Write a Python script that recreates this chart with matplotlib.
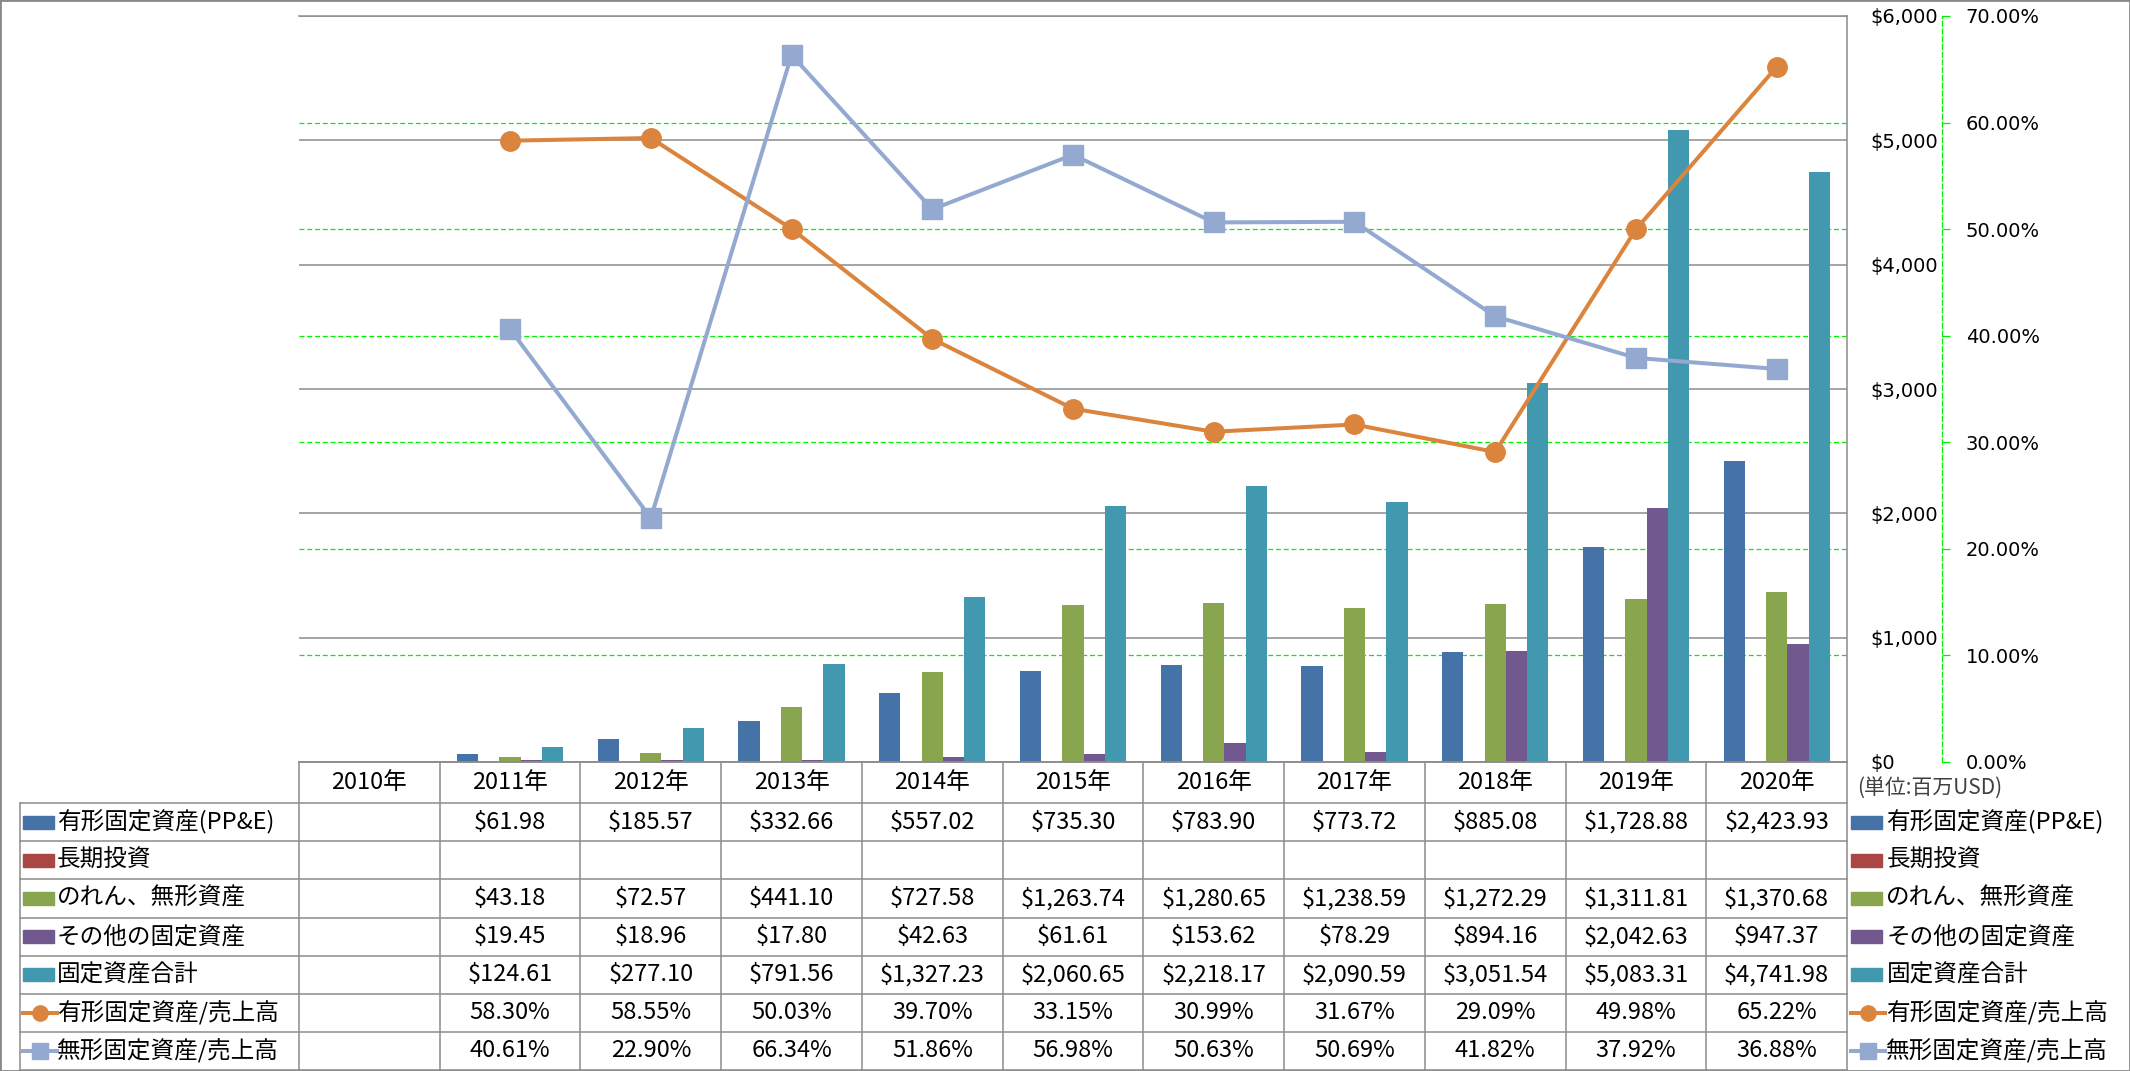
import matplotlib
matplotlib.use('Agg')
import matplotlib.pyplot as plt
import numpy as np
from matplotlib.lines import Line2D
from matplotlib.patches import Rectangle
from matplotlib.ticker import FuncFormatter, PercentFormatter

nan = np.nan

years = ['2010年', '2011年', '2012年', '2013年', '2014年', '2015年',
         '2016年', '2017年', '2018年', '2019年', '2020年']

# 単位: 百万USD
ppe = [nan, 61.98, 185.57, 332.66, 557.02, 735.30, 783.90, 773.72, 885.08, 1728.88, 2423.93]
long_inv = [nan, nan, nan, nan, nan, nan, nan, nan, nan, nan, nan]
goodwill = [nan, 43.18, 72.57, 441.10, 727.58, 1263.74, 1280.65, 1238.59, 1272.29, 1311.81, 1370.68]
other = [nan, 19.45, 18.96, 17.80, 42.63, 61.61, 153.62, 78.29, 894.16, 2042.63, 947.37]
total = [nan, 124.61, 277.10, 791.56, 1327.23, 2060.65, 2218.17, 2090.59, 3051.54, 5083.31, 4741.98]

# 売上高比 (%)
ppe_ratio = [nan, 58.30, 58.55, 50.03, 39.70, 33.15, 30.99, 31.67, 29.09, 49.98, 65.22]
intang_ratio = [nan, 40.61, 22.90, 66.34, 51.86, 56.98, 50.63, 50.69, 41.82, 37.92, 36.88]

bar_names = ['有形固定資産(PP&E)', '長期投資', 'のれん、無形資産', 'その他の固定資産', '固定資産合計']
line_names = ['有形固定資産/売上高', '無形固定資産/売上高']

bar_series = [ppe, long_inv, goodwill, other, total]
line_series = [ppe_ratio, intang_ratio]

bar_colors = ['#4572A7', '#AA4643', '#89A54E', '#71588F', '#4198AF']
line_colors = ['#DB843D', '#93A9CF']
line_markers = ['o', 's']

cjk = ['Noto Sans CJK JP', 'DejaVu Sans']
grid_gray = '#8C8C8C'
lime = '#00F000'
tab_fs = 17

W, H = 2130, 1071
fig = plt.figure(figsize=(W / 100, H / 100), dpi=100)

plot_l, plot_r, plot_t, plot_b = 299, 1847, 16, 762
tab_l, tab_b = 20, 1070

ax = fig.add_axes([plot_l / W, 1 - plot_b / H, (plot_r - plot_l) / W, (plot_b - plot_t) / H])
n = len(years)
x = np.arange(n)

usd_max = 6000
pct_max = 0.70

# bars
bw = 0.151
for k, (vals, c) in enumerate(zip(bar_series, bar_colors)):
    ax.bar(x + (k - 2) * bw, vals, bw, color=c, zorder=2)

ax.set_xlim(-0.5, n - 0.5)
ax.set_ylim(0, usd_max)
ax.set_xticks([])
ax.set_yticks(np.arange(0, usd_max + 1, 1000))
ax.yaxis.grid(True, color=grid_gray, lw=1.1, zorder=0)
ax.set_axisbelow(True)
ax.spines['left'].set_visible(False)
for s in ['top', 'right', 'bottom']:
    ax.spines[s].set_color(grid_gray)
    ax.spines[s].set_linewidth(1.1)

# percentage gridlines (green dashed), behind the bars
pct_ticks = np.arange(0, pct_max + 0.001, 0.10)
for p in pct_ticks[1:-1]:
    ax.axhline(p / pct_max * usd_max, color=lime, lw=0.9, ls=(0, (4, 2.2)), zorder=1)

ax2 = ax.twinx()
ax.yaxis.tick_right()
ax.tick_params(axis='y', length=0, pad=16.5, labelsize=14)
ax.yaxis.set_major_formatter(FuncFormatter(lambda v, _: f'${v:,.0f}'))

for vals, c, m in zip(line_series, line_colors, line_markers):
    ax2.plot(x, np.array(vals) / 100, color=c, lw=2.9, marker=m, markersize=14,
             markerfacecolor=c, markeredgecolor=c, zorder=3)

ax2.set_ylim(0, pct_max)
ax2.set_yticks(pct_ticks)
ax2.yaxis.set_major_formatter(PercentFormatter(xmax=1, decimals=2))
for s in ['left', 'top', 'bottom']:
    ax2.spines[s].set_visible(False)
ax2.spines['right'].set_position(('outward', 95 * 72 / 100))
ax2.spines['right'].set_color(lime)
ax2.spines['right'].set_linestyle((0, (4, 2.2)))
ax2.spines['right'].set_linewidth(0.9)
ax2.tick_params(axis='y', direction='out', length=6, width=0.9, color=lime,
                labelcolor='black', pad=11, labelsize=14)

# data table below the chart
col_w = (plot_r - plot_l) / n
label_w = (plot_l - tab_l) / col_w
header_h = 41 / 38
n_rows = len(bar_names) + len(line_names)

tax = fig.add_axes([tab_l / W, 1 - tab_b / H, (plot_r - tab_l) / W, (tab_b - plot_b) / H])
tax.set_xlim(-0.5 - label_w, n - 0.5)
tax.set_ylim(header_h + n_rows, 0)
tax.axis('off')

x_left = -0.5 - label_w
x_right = n - 0.5
y_bottom = header_h + n_rows
lkw = dict(color=grid_gray, lw=1.1, clip_on=False)

# header row borders
tax.plot([-0.5, x_right], [0, 0], **lkw)
for b in np.arange(n + 1) - 0.5:
    tax.plot([b, b], [0, y_bottom], **lkw)
tax.plot([x_left, x_left], [header_h, y_bottom], **lkw)
for r in range(n_rows + 1):
    tax.plot([x_left, x_right], [header_h + r, header_h + r], **lkw)

for i, yr in enumerate(years):
    tax.text(i, header_h / 2, yr, ha='center', va='center', fontsize=tab_fs, family=cjk)

row_names = bar_names + line_names
row_vals = bar_series + line_series


def fmt(v, is_pct):
    if np.isnan(v):
        return ''
    return f'{v:.2f}%' if is_pct else f'${v:,.2f}'


def swatch(x0, yc, r):
    if r < len(bar_names):
        tax.add_patch(Rectangle((x0, yc - 0.17), 0.22, 0.34, color=bar_colors[r], clip_on=False))
    else:
        j = r - len(bar_names)
        tax.add_line(Line2D([x0, x0 + 0.24], [yc, yc], color=line_colors[j], lw=2.9,
                            clip_on=False))
        tax.add_line(Line2D([x0 + 0.12], [yc], color=line_colors[j], marker=line_markers[j],
                            markersize=11, lw=0, clip_on=False))


for r, (name, vals) in enumerate(zip(row_names, row_vals)):
    yc = header_h + r + 0.5
    is_pct = r >= len(bar_names)
    swatch(x_left + 0.02, yc, r)
    tax.text(x_left + 0.26, yc, name, ha='left', va='center', fontsize=tab_fs, family=cjk)
    for i, v in enumerate(vals):
        tax.text(i, yc, fmt(v, is_pct), ha='center', va='center', fontsize=tab_fs, family=cjk)
    # legend on the right side
    swatch(x_right + 0.03, yc, r)
    tax.text(x_right + 0.28, yc, name, ha='left', va='center', fontsize=tab_fs, family=cjk,
             clip_on=False)

fig.text(1857 / W, 1 - 788 / H, '(単位:百万USD)', ha='left', va='center', fontsize=15,
         family=cjk, color='#404040')

fig.add_artist(Rectangle((0, 0), 1, 1, transform=fig.transFigure, fill=False,
                         edgecolor='#898989', lw=2))

fig.savefig('out.png', dpi=100)
